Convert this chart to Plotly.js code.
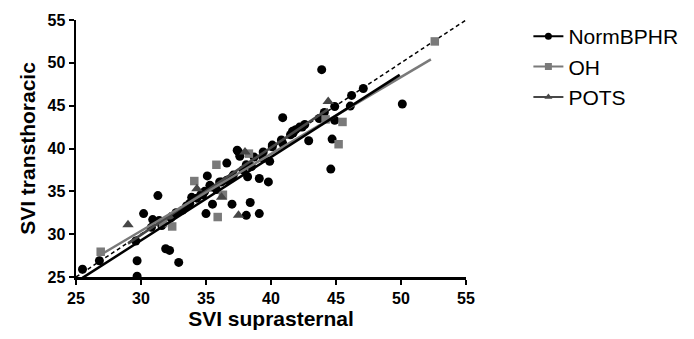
<!DOCTYPE html>
<html>
<head>
<meta charset="utf-8">
<script src="https://cdn.plot.ly/plotly-3.0.1.min.js"></script>
<style>html,body{margin:0;padding:0;background:#fff;}#chart{width:694px;height:339px;}</style>
</head>
<body>
<div id="chart"></div>
<script>
// NormBPHR points
const normX = [25.5,26.8,29.7,29.7,29.6,30.2,31.3,30.9,31.4,31.9,32.2,32.9,32.7,33.5,31.6,32.3,33.2,33.75,34.3,34.75,35.4,36.05,36.6,37.1,37.85,38.5,39.4,40.1,40.9,41.7,40.9,37.4,37.6,36.6,35.1,38.1,39.9,39.1,39.8,38.2,35.0,38.4,39.1,37.0,38.1,43.9,50.1,47.1,46.2,46.1,44.9,44.1,43.7,44.9,42.9,44.7,44.6,41.9,42.2,41.5,40.8,40.1,39.4,38.7,35.3,36.2,36.9,34.6,35.8,37.5,35.5,30.8,33.9,34.9,42.6,41.65,42.4];
const normY = [25.9,26.9,26.9,25.1,29.2,32.4,34.5,31.7,31.6,28.3,28.1,26.7,32.5,33.3,31.0,31.9,32.8,33.6,34.2,34.6,35.5,36.1,36.3,36.9,37.5,37.9,38.85,40.2,40.6,41.8,43.6,39.8,39.1,38.3,36.8,38.1,38.5,36.5,36.1,36.7,32.4,33.7,32.4,33.5,32.2,49.2,45.2,47.0,46.2,44.95,44.9,44.2,43.5,43.3,40.9,41.1,37.6,42.2,42.5,41.6,41.0,40.4,39.6,39.0,35.7,36.1,36.5,34.6,35.2,39.6,33.5,30.8,34.3,35.0,42.8,42.0,42.5];
// OH points
const ohX = [26.9,32.4,34.1,35.8,36.3,35.9,38.3,45.5,45.2,52.6,44.2,31.7];
const ohY = [27.95,30.9,36.2,38.1,34.6,32.0,39.4,43.1,40.5,52.5,43.4,31.3];
// POTS points
const potsX = [29.0,34.3,37.5,38.0,44.4,32.2,36.2];
const potsY = [31.1,35.3,32.2,39.6,45.5,32.0,34.3];
// regression line endpoints
const normFitX = [25.5,49.9], normFitY = [24.9,48.6];
const ohFitX = [26.9,52.3], ohFitY = [27.6,50.4];
const potsFitX = [29.0,44.4], potsFitY = [28.9,44.6];
const identX = [25,55], identY = [25,55];
const names = ['NormBPHR','OH','POTS'];
const tickVals = [25,30,35,40,45,50,55];

const cBlack = '#000000', cOH = '#7a7a7a', cPOTS = '#474747';
const traces = [
  {x: identX, y: identY, mode:'lines', line:{color:'#000', width:1.5, dash:'4px,3px'}, showlegend:false, hoverinfo:'skip'},
  {x: normX, y: normY, mode:'markers', marker:{symbol:'circle', size:9, color:cBlack}, showlegend:false},
  {x: ohX, y: ohY, mode:'markers', marker:{symbol:'square', size:8.5, color:cOH}, showlegend:false},
  {x: potsX, y: potsY, mode:'markers', marker:{symbol:'triangle-up', size:10, color:cPOTS}, showlegend:false},
  {x: potsFitX, y: potsFitY, mode:'lines', line:{color:cPOTS, width:2.5}, showlegend:false},
  {x: ohFitX, y: ohFitY, mode:'lines', line:{color:cOH, width:2.5}, showlegend:false},
  {x: normFitX, y: normFitY, mode:'lines', line:{color:cBlack, width:2.5}, showlegend:false},
  {x:[null], y:[null], name:names[0], mode:'lines+markers', line:{color:cBlack,width:2}, marker:{symbol:'circle',size:7,color:cBlack}},
  {x:[null], y:[null], name:names[1], mode:'lines+markers', line:{color:cOH,width:2}, marker:{symbol:'square',size:7,color:cOH}},
  {x:[null], y:[null], name:names[2], mode:'lines+markers', line:{color:cPOTS,width:2}, marker:{symbol:'triangle-up',size:7,color:cPOTS}}
];
const axisCommon = {
  range:[25,55], tickvals:tickVals, ticktext:tickVals.map(String), ticks:'outside', ticklen:5, tickwidth:2,
  tickcolor:'#000', showline:true, linecolor:'#000', linewidth:2.5, showgrid:false, zeroline:false,
  tickfont:{family:'Liberation Sans, Arial, sans-serif', size:16, color:'#000', weight:'bold'}
};
const layout = {
  width:694, height:339, margin:{l:76, r:227, t:20, b:62},
  paper_bgcolor:'#fff', plot_bgcolor:'#fff',
  font:{family:'Liberation Sans, Arial, sans-serif', color:'#000'},
  xaxis: Object.assign({}, axisCommon, {title:{text:'<b>SVI suprasternal</b>', font:{size:21, color:'#000'}, standoff:6}}),
  yaxis: Object.assign({}, axisCommon, {title:{text:'<b>SVI transthoracic</b>', font:{size:21, color:'#000'}, standoff:6}}),
  legend:{x:1.157, y:1.015, xanchor:'left', yanchor:'top', font:{size:21, color:'#000'}, tracegroupgap:0, itemwidth:30, bgcolor:'rgba(0,0,0,0)'},
  showlegend:true
};
Plotly.newPlot('chart', traces, layout, {displayModeBar:false, staticPlot:true});
</script>
</body>
</html>
